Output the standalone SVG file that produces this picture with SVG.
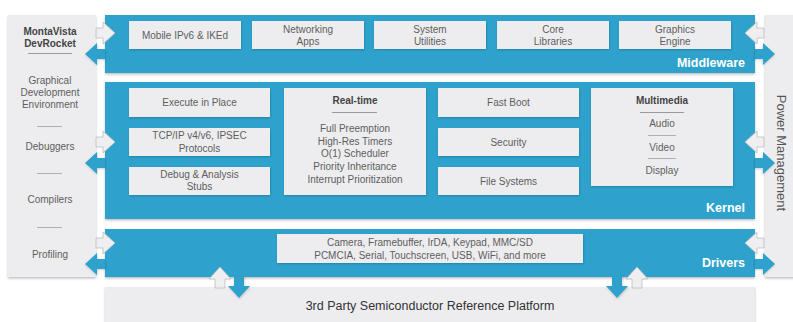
<svg xmlns="http://www.w3.org/2000/svg" width="793" height="322" viewBox="0 0 793 322">
<defs>
<filter id="sh" x="-10%" y="-10%" width="120%" height="130%">
<feDropShadow dx="0" dy="1.5" stdDeviation="1.2" flood-color="#000" flood-opacity="0.25"/>
</filter>
<filter id="sh2" x="-10%" y="-10%" width="120%" height="130%">
<feDropShadow dx="0.5" dy="1" stdDeviation="0.8" flood-color="#000" flood-opacity="0.2"/>
</filter>
<path id="wR" d="M96,28 L103,28 L103,22 L115,33 L103,44 L103,38 L96,38 Z"/>
<path id="bL" d="M105,49 L97,49 L97,43 L85,54 L97,65 L97,59 L105,59 Z"/>
</defs>
<style>
text{font-family:"Liberation Sans",Arial,sans-serif;}
.band{fill:#2fa2cc;filter:url(#sh);}
.box{fill:#ededef;filter:url(#sh2);}
.panel{fill:#ededef;filter:url(#sh);}
.t{font-size:10px;fill:#5e5e5e;text-anchor:middle;}
.tb{font-size:10px;fill:#444;text-anchor:middle;font-weight:bold;}
.lbl{font-size:12.5px;fill:#fff;text-anchor:end;font-weight:bold;}
.sep{stroke:#9a9a9a;stroke-width:1;}
.sep2{stroke:#b0b0b0;stroke-width:1;}
.wa{fill:#efeff1;stroke:#bdbdc2;stroke-width:0.8;}
.ba{fill:#2fa2cc;filter:url(#sh2);}
</style>
<rect width="793" height="322" fill="#fff"/>

<g id="left-panel">
<rect class="panel" x="8" y="15" width="88" height="262"/>
<text class="tb" x="50" y="35">MontaVista</text>
<text class="tb" x="50" y="47">DevRocket</text>
<line class="sep" x1="28" y1="53.5" x2="72" y2="53.5"/>
<text class="t" x="50" y="84">Graphical</text>
<text class="t" x="50" y="96">Development</text>
<text class="t" x="50" y="108">Environment</text>
<line class="sep2" x1="37" y1="126.5" x2="62" y2="126.5"/>
<text class="t" x="50" y="150">Debuggers</text>
<line class="sep2" x1="37" y1="173.5" x2="62" y2="173.5"/>
<text class="t" x="50" y="203">Compilers</text>
<line class="sep2" x1="37" y1="227.5" x2="62" y2="227.5"/>
<text class="t" x="50" y="258">Profiling</text>
</g>

<g id="right-panel">
<rect class="panel" x="765" y="15" width="30" height="262"/>
<text transform="translate(777,153) rotate(90)" style="font-size:13px;fill:#555;text-anchor:middle;">Power Management</text>
</g>

<g id="platform">
<rect class="panel" x="105" y="287" width="650" height="40"/>
<text x="430" y="310" style="font-size:12.5px;fill:#333;text-anchor:middle;">3rd Party Semiconductor Reference Platform</text>
</g>

<g id="middleware">
<rect class="band" x="105" y="15" width="650" height="58"/>
<text class="lbl" x="745" y="67">Middleware</text>
</g>
<g id="kernel">
<rect class="band" x="105" y="82" width="650" height="137"/>
<text class="lbl" x="745" y="212">Kernel</text>
</g>
<g id="drivers">
<rect class="band" x="105" y="229" width="650" height="48"/>
<text class="lbl" x="745" y="267">Drivers</text>
</g>

<g id="mw-mobile"><rect class="box" x="129" y="21" width="112" height="28"/><text class="t" x="185" y="39">Mobile IPv6 &amp; IKEd</text></g>
<g id="mw-networking"><rect class="box" x="252" y="21" width="112" height="28"/><text class="t" x="308" y="32.5">Networking</text><text class="t" x="308" y="45">Apps</text></g>
<g id="mw-system"><rect class="box" x="374" y="21" width="112" height="28"/><text class="t" x="430" y="32.5">System</text><text class="t" x="430" y="45">Utilities</text></g>
<g id="mw-core"><rect class="box" x="497" y="21" width="112" height="28"/><text class="t" x="553" y="32.5">Core</text><text class="t" x="553" y="45">Libraries</text></g>
<g id="mw-graphics"><rect class="box" x="619" y="21" width="112" height="28"/><text class="t" x="675" y="32.5">Graphics</text><text class="t" x="675" y="45">Engine</text></g>

<g id="k-xip"><rect class="box" x="129" y="88" width="141" height="29"/><text class="t" x="199.5" y="106">Execute in Place</text></g>
<g id="k-tcpip"><rect class="box" x="129" y="128" width="141" height="28"/><text class="t" x="199.5" y="139">TCP/IP v4/v6, IPSEC</text><text class="t" x="199.5" y="152">Protocols</text></g>
<g id="k-debug"><rect class="box" x="129" y="167" width="141" height="28"/><text class="t" x="199.5" y="178">Debug &amp; Analysis</text><text class="t" x="199.5" y="190">Stubs</text></g>

<g id="k-realtime"><rect class="box" x="284" y="88" width="142" height="107"/>
<text class="tb" x="355" y="104">Real-time</text>
<line class="sep" x1="332" y1="112.5" x2="377" y2="112.5"/>
<text class="t" x="355" y="132">Full Preemption</text>
<text class="t" x="355" y="145">High-Res Timers</text>
<text class="t" x="355" y="157">O(1) Scheduler</text>
<text class="t" x="355" y="170">Priority Inheritance</text>
<text class="t" x="355" y="183">Interrupt Prioritization</text>
</g>

<g id="k-fastboot"><rect class="box" x="438" y="88" width="141" height="29"/><text class="t" x="508.5" y="106">Fast Boot</text></g>
<g id="k-security"><rect class="box" x="438" y="128" width="141" height="28"/><text class="t" x="508.5" y="145.5">Security</text></g>
<g id="k-fs"><rect class="box" x="438" y="167" width="141" height="28"/><text class="t" x="508.5" y="184.5">File Systems</text></g>

<g id="k-multimedia"><rect class="box" x="591" y="88" width="142" height="98"/>
<text class="tb" x="662" y="104">Multimedia</text>
<line class="sep" x1="640" y1="112.5" x2="684" y2="112.5"/>
<text class="t" x="662" y="127">Audio</text>
<line class="sep2" x1="648" y1="135.5" x2="676" y2="135.5"/>
<text class="t" x="662" y="151">Video</text>
<line class="sep2" x1="648" y1="158.5" x2="676" y2="158.5"/>
<text class="t" x="662" y="174">Display</text>
</g>

<g id="d-list"><rect class="box" x="277" y="234" width="306" height="29"/>
<text class="t" x="430" y="246">Camera, Framebuffer, IrDA, Keypad, MMC/SD</text>
<text class="t" x="430" y="258.5">PCMCIA, Serial, Touchscreen, USB, WiFi, and more</text>
</g>

<g id="connectors">
<use href="#wR" class="wa"/><use href="#bL" class="ba"/>
<use href="#wR" class="wa" transform="translate(0,109)"/><use href="#bL" class="ba" transform="translate(0,109)"/>
<use href="#wR" class="wa" transform="translate(0,210)"/><use href="#bL" class="ba" transform="translate(0,210)"/>
<use href="#wR" class="wa" transform="translate(860,0) scale(-1,1)"/><use href="#bL" class="ba" transform="translate(860,0) scale(-1,1)"/>
<use href="#wR" class="wa" transform="translate(860,109) scale(-1,1)"/><use href="#bL" class="ba" transform="translate(860,109) scale(-1,1)"/>
<use href="#wR" class="wa" transform="translate(860,210) scale(-1,1)"/><use href="#bL" class="ba" transform="translate(860,210) scale(-1,1)"/>
<path class="wa" d="M215,288 L215,279 L209,279 L220,267 L231,279 L225,279 L225,288 Z"/>
<path class="ba" d="M234,276 L234,286 L228,286 L239,298 L250,286 L244,286 L244,276 Z"/>
<path class="ba" d="M612,276 L612,286 L606,286 L617,298 L628,286 L622,286 L622,276 Z"/>
<path class="wa" d="M632,288 L632,279 L626,279 L637,267 L648,279 L642,279 L642,288 Z"/>
</g>
</svg>
